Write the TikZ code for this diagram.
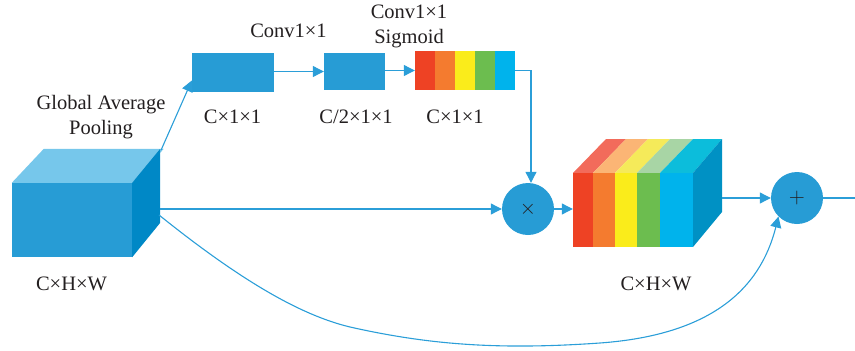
\documentclass[tikz,border=0pt]{standalone}
\usepackage{fontspec}
\setmainfont{Liberation Serif}
\usetikzlibrary{arrows.meta,calc}
\definecolor{bl}{HTML}{279CD5}
\definecolor{bltop}{HTML}{76C7EB}
\definecolor{blside}{HTML}{0088C6}
\definecolor{ln}{HTML}{2B9ED8}
\definecolor{cR}{HTML}{EE4224}
\definecolor{cO}{HTML}{F47B2F}
\definecolor{cY}{HTML}{FAEC1B}
\definecolor{cG}{HTML}{6CBD4F}
\definecolor{cC}{HTML}{00B3EC}
\definecolor{tR}{HTML}{F26B5B}
\definecolor{tO}{HTML}{FBB575}
\definecolor{tY}{HTML}{F5EA5A}
\definecolor{tG}{HTML}{A8D5A5}
\definecolor{tC}{HTML}{0CBDDB}
\definecolor{rside}{HTML}{0091C4}
\definecolor{txt}{HTML}{231F20}
\tikzset{
  conn/.style={draw=ln, line width=1.1pt},
  arr/.style={conn, -{Triangle[length=11pt,width=11pt]}},
  blbox/.style={rectangle, fill=bl, inner sep=0pt},
  op/.style={circle, fill=bl, inner sep=0pt, minimum size=52pt, text=txt, font=\sffamily\fontsize{22}{22}\selectfont},
  lbl/.style={text=txt, font=\fontsize{20.5}{25}\selectfont, align=center, inner sep=0pt},
}
\begin{document}
\begin{tikzpicture}[x=1pt,y=-1pt]
\useasboundingbox (0,0) rectangle (855,351);
% big left cube
\node[blbox, minimum width=120pt, minimum height=74pt] (cube) at (72,220) {};
\fill[bltop] (cube.north west) -- ++(32,-34) -- ++(120,0) -- (cube.north east) -- cycle;
\fill[blside] (cube.north east) -- ++(28,-34) -- ++(0,74) -- (cube.south east) -- cycle;
\coordinate (cubetop) at ($(cube.north east)+(29,-33)$);
\coordinate (cubemid) at (160,209);
\coordinate (cubelow) at (159,215);
% small boxes
\node[blbox, minimum width=82pt, minimum height=39pt] (box1) at (233,72.5) {};
\node[blbox, minimum width=61pt, minimum height=37pt] (box2) at (354.5,71.5) {};
% rainbow bar
\node[rectangle, inner sep=0pt, minimum width=100pt, minimum height=39pt] (bar) at (465,70.5) {};
\foreach \c [count=\i from 0] in {cR,cO,cY,cG,cC}{
  \fill[\c] ($(bar.north west)+(20*\i,0)$) rectangle ++(20,39);
}
% circles
\node[op] (mul) at (528,209) {$\times$};
\node[op] (add) at (797,198) {+};
% rainbow cube
\node[rectangle, inner sep=0pt, minimum width=120pt, minimum height=74pt] (rc) at (633,210) {};
\fill[tR] (573,173) -- ++(33,-34) -- ++(20,0) -- (593,173) -- cycle;
\fill[tO] (593,173) -- ++(33,-34) -- ++(22,0) -- (615,173) -- cycle;
\fill[tY] (615,173) -- ++(33,-34) -- ++(22,0) -- (637,173) -- cycle;
\fill[tG] (637,173) -- ++(33,-34) -- ++(23,0) -- (660,173) -- cycle;
\fill[tC] (660,173) -- ++(33,-34) -- ++(29,0) -- (693,173) -- cycle;
\fill[cR] (573,173) rectangle (593,247);
\fill[cO] (593,173) rectangle (615,247);
\fill[cY] (615,173) rectangle (637,247);
\fill[cG] (637,173) rectangle (660,247);
\fill[cC] (660,173) rectangle (693,247);
\fill[rside] (693,173) -- (722,139) -- (722,212) -- (693,247) -- cycle;
\coordinate (rcside) at (722,198);
\coordinate (out) at (855,198);
% connectors
\draw[arr] (cubetop) -- ([yshift=-8pt]box1.west);
\draw[arr] (box2.west -| box1.east) -- (box2.west);
\draw[arr] (bar.west -| box2.east) -- (bar.west);
\draw[arr] (bar.east) -| ([xshift=3pt]mul.north);
\draw[arr] (cubemid) -- (mul.west);
\draw[arr] (mul.east) -- (mul.east -| rc.west);
\draw[arr] (rcside) -- (add.west);
\draw[conn] (add.east) -- (out);
\draw[arr] (cubelow) .. controls (240,280) and (300,315) .. (350,327)
  .. controls (430,345) and (500,350) .. (600,343)
  .. controls (710,335) and (760,290) .. (add.south west);
% labels
\node[lbl] (gap) at (101,117) {Global Average\\Pooling};
\node[lbl] (lc1) at (288.5,31) {Conv1×1};
\node[lbl] (lc2) at (409,26) {Conv1×1\\Sigmoid};
\node[lbl] (d1) at (232.5,117) {C×1×1};
\node[lbl] (d2) at (356,117) {C/2×1×1};
\node[lbl] (d3) at (455,117) {C×1×1};
\node[lbl] (d4) at (71.5,284) {C×H×W};
\node[lbl] (d5) at (656,284) {C×H×W};
\end{tikzpicture}
\end{document}
